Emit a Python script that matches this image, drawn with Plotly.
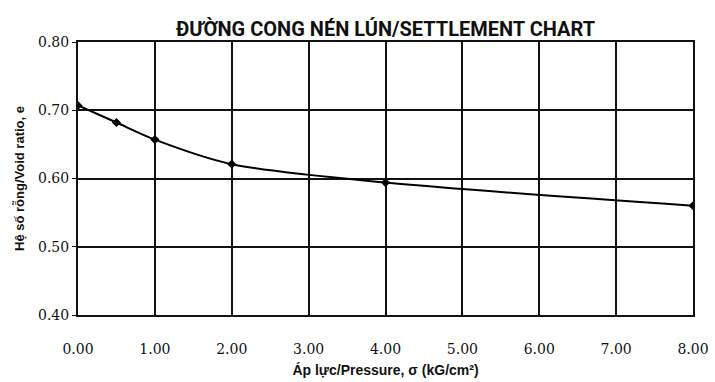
import plotly.graph_objects as go

pressure = [0.0, 0.5, 1.0, 2.0, 4.0, 8.0]
void_ratio = [0.707, 0.682, 0.657, 0.621, 0.594, 0.560]
x_ticks = [0, 1, 2, 3, 4, 5, 6, 7, 8]
y_ticks = [0.4, 0.5, 0.6, 0.7, 0.8]

serif = "DejaVu Serif, Liberation Serif, serif"

fig = go.Figure()
fig.add_trace(go.Scatter(
    x=pressure, y=void_ratio, mode="lines+markers",
    line=dict(color="black", width=2, shape="spline", smoothing=0.8),
    marker=dict(symbol="diamond", size=7, color="black"),
    showlegend=False,
))

fig.update_layout(
    width=715, height=382,
    margin=dict(l=78, r=22, t=42, b=67, autoexpand=False),
    paper_bgcolor="white", plot_bgcolor="white",
    title=dict(
        text="<b>ĐƯỜNG CONG NÉN LÚN/SETTLEMENT CHART</b>",
        x=0.5, xref="paper", xanchor="center", y=0.925, yanchor="middle",
        font=dict(family="Roboto, Liberation Sans", size=20, color="#111"),
    ),
    xaxis=dict(
        range=[0, 8], tickvals=x_ticks, tickformat=".2f", automargin=False,
        showgrid=True, gridcolor="#111", gridwidth=1.5,
        showline=True, linecolor="#111", linewidth=2, mirror=True,
        zeroline=False, ticks="", ticklabelstandoff=20,
        tickfont=dict(family=serif, size=14, color="#111"),
        title=dict(text="<b>Áp lực/Pressure, σ (kG/cm²)</b>", standoff=9,
                   font=dict(family="Liberation Sans, Arial", size=14, color="#111")),
    ),
    yaxis=dict(
        range=[0.4, 0.8], tickvals=y_ticks, tickformat=".2f", automargin=False,
        showgrid=True, gridcolor="#111", gridwidth=1.5,
        showline=True, linecolor="#111", linewidth=2, mirror=True,
        zeroline=False, ticks="outside", ticklen=4, tickcolor="#111",
        tickfont=dict(family=serif, size=14, color="#111"),
        title=dict(text="<b>Hệ số rỗng/Void ratio, e</b>", standoff=10,
                   font=dict(family="Liberation Sans, Arial", size=13, color="#111")),
    ),
)

fig.write_html("out.html", config={"displayModeBar": False},
               post_script="document.body.style.margin='0';")
